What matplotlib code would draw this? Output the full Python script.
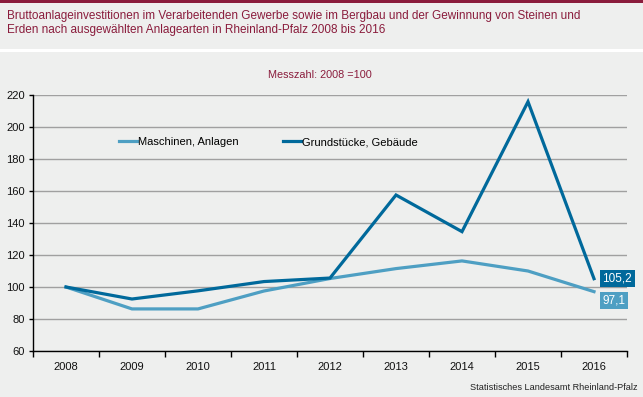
import matplotlib
matplotlib.use("Agg")
import matplotlib.pyplot as plt
from matplotlib.patches import Rectangle
from matplotlib.lines import Line2D
import numpy as np

years = ["2008", "2009", "2010", "2011", "2012", "2013", "2014", "2015", "2016"]
maschinen = [100, 86.3, 86.3, 97.5, 105.3, 111.5, 116.3, 110.0, 97.1]
grundstuecke = [100, 92.5, 97.6, 103.4, 105.6, 157.5, 134.6, 215.8, 105.2]
yticks = [60, 80, 100, 120, 140, 160, 180, 200, 220]

c_light = "#4E9FC3"
c_dark = "#00699B"
bg = "#EEEFEE"
maroon = "#8A1C3C"

plt.rcParams["font.family"] = ["Liberation Sans", "DejaVu Sans"]

fig = plt.figure(figsize=(6.43, 3.97), dpi=100)
fig.patch.set_facecolor(bg)

# top bar and white separator
fig.patches.append(Rectangle((0, 1 - 3 / 397), 1, 3 / 397, transform=fig.transFigure,
                             facecolor=maroon, edgecolor="none", zorder=0))
fig.patches.append(Rectangle((0, 1 - 52 / 397), 1, 3 / 397, transform=fig.transFigure,
                             facecolor="white", edgecolor="none", zorder=0))

fig.text(7 / 643, 1 - 10 / 397,
         "Bruttoanlageinvestitionen im Verarbeitenden Gewerbe sowie im Bergbau und der Gewinnung von Steinen und\n"
         "Erden nach ausgewählten Anlagearten in Rheinland-Pfalz 2008 bis 2016",
         ha="left", va="top", fontsize=8.5, color=maroon, linespacing=1.25)
fig.text(320 / 643, 1 - 75 / 397, "Messzahl: 2008 =100", ha="center", va="center",
         fontsize=7.8, color=maroon)
fig.text(638 / 643, 1 - 388 / 397, "Statistisches Landesamt Rheinland-Pfalz", ha="right",
         va="center", fontsize=6.6, color="#222222")

ax = fig.add_axes([33 / 643, 1 - 351 / 397, (627 - 33) / 643, (351 - 95) / 397])
ax.set_facecolor(bg)
x = np.arange(len(years))
ax.plot(x, maschinen, color=c_light, lw=2.3, solid_joinstyle="miter", zorder=3)
ax.plot(x, grundstuecke, color=c_dark, lw=2.3, solid_joinstyle="miter", zorder=4)

ax.set_xlim(-0.5, len(years) - 0.5)
ax.set_ylim(60, 220)
ax.set_yticks(yticks)
ax.set_yticklabels([str(v) for v in yticks], fontsize=8, color="#111111")
ax.set_xticks(x)
ax.set_xticklabels(years, fontsize=8, color="#111111")
ax.set_xticks(np.arange(-0.5, len(years)), minor=True)
ax.tick_params(axis="x", which="major", length=0, pad=8)
ax.tick_params(axis="x", which="minor", length=4, direction="out", color="black", width=1)
ax.tick_params(axis="y", which="major", length=3, direction="out", color="black", width=1, pad=3)
ax.yaxis.grid(True, color="#A0A0A0", lw=1)
ax.set_axisbelow(True)
for s in ["top", "right"]:
    ax.spines[s].set_visible(False)
ax.spines["left"].set_color("black")
ax.spines["bottom"].set_color("black")
ax.spines["left"].set_linewidth(1)
ax.spines["bottom"].set_linewidth(1)

# legend
h1 = Line2D([], [], color=c_light, lw=2.3)
h2 = Line2D([], [], color=c_dark, lw=2.3)
leg = ax.legend([h1, h2], ["Maschinen, Anlagen", "Grundstücke, Gebäude"], ncol=2,
                loc="center left", bbox_to_anchor=(0.128, 0.815), frameon=False,
                fontsize=8, handlelength=1.6, handletextpad=0.1, columnspacing=4.0)

# end labels
ax.annotate(f"{grundstuecke[-1]:.1f}".replace(".", ","), xy=(x[-1], grundstuecke[-1]),
            xytext=(6, 0), textcoords="offset points", ha="left", va="center",
            fontsize=8.5, color="white",
            bbox=dict(boxstyle="square,pad=0.22", fc=c_dark, ec="none"))
ax.annotate(f"{maschinen[-1]:.1f}".replace(".", ","), xy=(x[-1], maschinen[-1]),
            xytext=(6, -6.5), textcoords="offset points", ha="left", va="center",
            fontsize=8.5, color="white",
            bbox=dict(boxstyle="square,pad=0.22", fc=c_light, ec="none"))

fig.savefig("out.png", dpi=100, facecolor=fig.get_facecolor())
